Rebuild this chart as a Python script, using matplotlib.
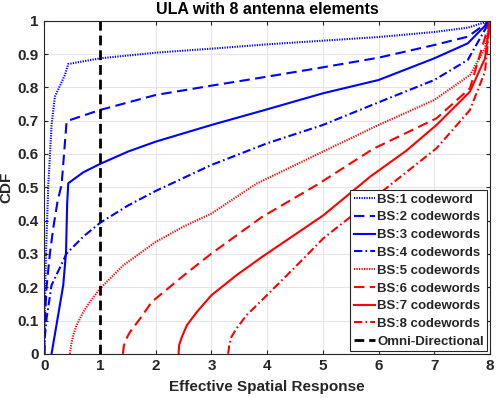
import numpy as np
import matplotlib.pyplot as plt

plt.rcParams['font.family'] = ['Liberation Sans', 'DejaVu Sans']
plt.rcParams['font.weight'] = 'bold'

# curves (x = effective spatial response, y = CDF)
bs1_x = [0, 0.005, 0.03, 0.07, 0.13, 0.19, 0.37, 0.43, 1.0, 2.0, 3.0, 4.0, 5.0, 6.0, 7.0, 7.6, 8.0]
bs1_y = [0, 0.1, 0.3, 0.5, 0.687, 0.772, 0.837, 0.870, 0.887, 0.904, 0.916, 0.929, 0.940, 0.951, 0.966, 0.979, 1.0]

bs2_x = [0, 0.01, 0.04, 0.1, 0.16, 0.24, 0.31, 0.40, 0.43, 1, 2, 3, 4, 5, 6, 7, 7.6, 8]
bs2_y = [0, 0.1, 0.2, 0.3, 0.377, 0.46, 0.507, 0.697, 0.70, 0.732, 0.777, 0.805, 0.832, 0.860, 0.889, 0.927, 0.952, 1.0]

bs3_x = [0.13, 0.34, 0.39, 0.41, 0.43, 0.7, 1, 1.5, 2, 3, 4, 5, 6, 7, 7.6, 8]
bs3_y = [0, 0.206, 0.306, 0.45, 0.512, 0.545, 0.570, 0.607, 0.637, 0.687, 0.734, 0.782, 0.822, 0.887, 0.932, 1.0]

bs4_x = [0, 0.01, 0.04, 0.13, 0.4, 0.7, 1, 1.5, 2, 3, 4, 5, 6, 7, 7.6, 8]
bs4_y = [0, 0.05, 0.106, 0.206, 0.301, 0.352, 0.393, 0.445, 0.489, 0.567, 0.632, 0.687, 0.755, 0.822, 0.882, 1.0]

bs5_x = [0.46, 0.48, 0.52, 0.58, 0.70, 0.82, 1.0, 1.42, 2.0, 2.5, 3.0, 3.8, 5.0, 6.0, 7.0, 7.64, 7.91, 8.0]
bs5_y = [0, 0.026, 0.056, 0.086, 0.126, 0.156, 0.196, 0.266, 0.336, 0.382, 0.421, 0.51, 0.607, 0.687, 0.762, 0.837, 0.917, 1.0]

bs6_x = [1.41, 1.43, 1.49, 1.54, 1.72, 1.93, 2.5, 3.0, 3.9, 4.92, 5.9, 7.04, 7.64, 8.0]
bs6_y = [0, 0.026, 0.051, 0.066, 0.106, 0.156, 0.235, 0.301, 0.41, 0.51, 0.615, 0.707, 0.797, 1.0]

bs7_x = [2.41, 2.42, 2.47, 2.56, 2.74, 3.0, 3.45, 3.9, 4.5, 5.01, 5.67, 5.85, 6.5, 7.04, 7.64, 7.91, 8.0]
bs7_y = [0, 0.026, 0.051, 0.086, 0.126, 0.176, 0.236, 0.29, 0.358, 0.416, 0.507, 0.532, 0.61, 0.687, 0.787, 0.887, 1.0]

bs8_x = [3.30, 3.32, 3.36, 3.45, 3.63, 3.9, 4.5, 5.01, 5.58, 6.21, 7.04, 7.64, 7.91, 8.0]
bs8_y = [0, 0.026, 0.051, 0.076, 0.116, 0.16, 0.26, 0.347, 0.422, 0.507, 0.617, 0.732, 0.847, 1.0]

omni_x = [1, 1]
omni_y = [0, 1]

labels = ['BS:1 codeword'] + ['BS:%d codewords' % i for i in range(2, 9)] + ['Omni-Directional']

fig = plt.figure(figsize=(4.99, 3.98), dpi=100)
ax = fig.add_axes([0.0888, 0.111, 0.8932, 0.837])

dot = (0, (0.6, 0.6))
dash = (0, (5.0, 2.6))
dashdot = (0, (4.0, 1.5, 0.8, 1.5))
lw = 1.5
curves = [(bs1_x, bs1_y, 'b', dot), (bs2_x, bs2_y, 'b', dash),
          (bs3_x, bs3_y, 'b', '-'), (bs4_x, bs4_y, 'b', dashdot),
          (bs5_x, bs5_y, 'r', dot), (bs6_x, bs6_y, 'r', dash),
          (bs7_x, bs7_y, 'r', '-'), (bs8_x, bs8_y, 'r', dashdot)]
for (x, y, c, ls), lab in zip(curves, labels):
    ax.plot(x, y, color=c, linestyle=ls, linewidth=lw, label=lab)
ax.plot(omni_x, omni_y, color='k', linestyle=(0, (3.5, 1.8)), linewidth=2, label=labels[-1])

ax.set_xlim(0, 8)
ax.set_ylim(0, 1)
ax.set_xticks(range(9))
ax.set_yticks(np.arange(0, 1.01, 0.1))
ax.set_yticklabels(['0'] + ['%.1f' % v for v in np.arange(0.1, 0.95, 0.1)] + ['1'])
ax.grid(True, color='#e6e6e6', linewidth=0.8)
ax.set_axisbelow(True)
for s in ax.spines.values():
    s.set_color('#262626')
    s.set_linewidth(0.8)
ax.tick_params(direction='in', length=3, labelsize=11, colors='#262626', pad=4,
               top=True, right=True)
for t in ax.get_xticklabels() + ax.get_yticklabels():
    t.set_fontweight('bold')

ax.set_xlabel('Effective Spatial Response', fontsize=11, fontweight='bold', color='#262626', labelpad=5)
ax.set_ylabel('CDF', fontsize=11, fontweight='bold', color='#262626', labelpad=3)
ax.set_title('ULA with 8 antenna elements', fontsize=11.5, fontweight='bold', pad=5)

leg = ax.legend(loc='lower right', fontsize=9.5, frameon=True, fancybox=False,
                edgecolor='#262626', borderaxespad=0.2, handlelength=1.6,
                handletextpad=0.2, labelspacing=0.42, borderpad=0.25, framealpha=1)
leg.get_frame().set_linewidth(0.8)
for t in leg.get_texts():
    t.set_fontweight('bold')
    t.set_color('#262626')

plt.savefig('out.png', dpi=100)
